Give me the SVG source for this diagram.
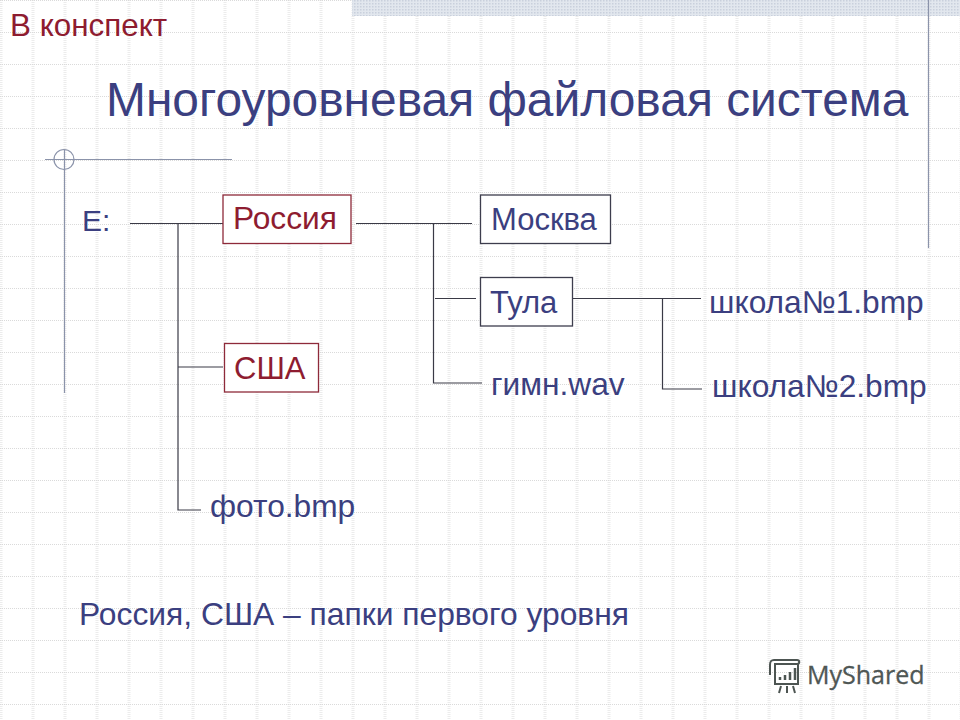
<svg xmlns="http://www.w3.org/2000/svg" width="960" height="720" viewBox="0 0 960 720">
<style>
text{font-family:"Liberation Sans",Arial,sans-serif}
.b{fill:#3b3f80}
.r{fill:#8e1c30}
.t{font-size:31.700px}
.box{fill:#fff;stroke-width:1.3}
.bb{stroke:#3d3d4d}
.rb{stroke:#8e2a3a}
#connectors path{fill:none;stroke:#3a3a46;stroke-width:1.2}
.deco{stroke:#8b93aa;fill:none;stroke-width:1.2}
</style>
<defs>
<pattern id="grid" width="32" height="32" patternUnits="userSpaceOnUse" x="0" y="0">
<path d="M33 0V32M1 0V32" stroke="#ececec" stroke-width="3" stroke-dasharray="1 1" fill="none"/>
<path d="M0 0.500H32" stroke="#dadada" stroke-width="1" stroke-dasharray="1 1" fill="none"/>
</pattern>
<pattern id="hatch" width="3" height="3" patternUnits="userSpaceOnUse">
<rect width="3" height="3" fill="#e2e7ee"/>
<rect width="1.500" height="1.500" fill="#c9d0dc"/>
</pattern>
</defs>
<rect width="960" height="720" fill="#fff"/>
<rect width="960" height="720" fill="url(#grid)"/>
<rect x="352" y="0" width="608" height="16" fill="url(#hatch)"/>
<g id="decor">
<path class="deco" d="M45 159.500H232M64.500 150V393M928.500 0V248"/>
<circle class="deco" cx="64" cy="159.500" r="10"/>
</g>
<g id="connectors">
<path d="M130 223.500H223M178 223.500V510H201M178 367H223"/>
<path d="M356 223.500H472M433.500 223.500V383H482M435 298.500H476"/>
<path d="M573 298.500H701M662.500 298.500V389H702"/>
</g>
<g id="heading"><text x="10" y="36" class="r" font-size="31.400">В конспект</text>
<text x="106" y="116" class="b" font-size="47.900">Многоуровневая файловая система</text></g>
<g id="node-e"><text x="82" y="231" class="b" font-size="30">Е:</text></g>
<g id="node-russia"><rect x="223" y="195" width="128" height="48.500" class="box rb"/><text x="233" y="229" class="r t">Россия</text></g>
<g id="node-moscow"><rect x="480.500" y="195" width="130" height="48.500" class="box bb"/><text x="491" y="230" class="b" font-size="31">Москва</text></g>
<g id="node-tula"><rect x="480.500" y="277.500" width="92" height="48.500" class="box bb"/><text x="490" y="313" class="b" font-size="31">Тула</text></g>
<g id="node-usa"><rect x="224.500" y="343.500" width="94" height="48.500" class="box rb"/><text x="234" y="379" class="r" font-size="31">США</text></g>
<g id="node-anthem"><text x="491" y="395" class="b t">гимн.wav</text></g>
<g id="node-photo"><text x="210" y="517" class="b t">фото.bmp</text></g>
<g id="node-school1"><text x="709" y="313" class="b t">школа№1.bmp</text></g>
<g id="node-school2"><text x="712" y="397" class="b t">школа№2.bmp</text></g>
<g id="note"><text x="79" y="625" class="b" font-size="31.800">Россия, США – папки первого уровня</text></g>
<g id="logo" fill="none" stroke="#4d5552" stroke-width="2">
<path d="M770 665C770 661 771 660 774 660H797C800 660 800 664 797 664H775V684H798V664M770 665V675" />
<path d="M780 680V677M785 680V675M790 680V672M795 680V668" stroke-width="2.500"/>
<path d="M781 686L779 693M787 686V693M793 686L795 693"/>
<text x="807" y="684" font-size="25" fill="#4f5755" stroke="#4f5755" stroke-width=".3" style="font-family:'Open Sans',sans-serif">MyShared</text>
</g>
</svg>
